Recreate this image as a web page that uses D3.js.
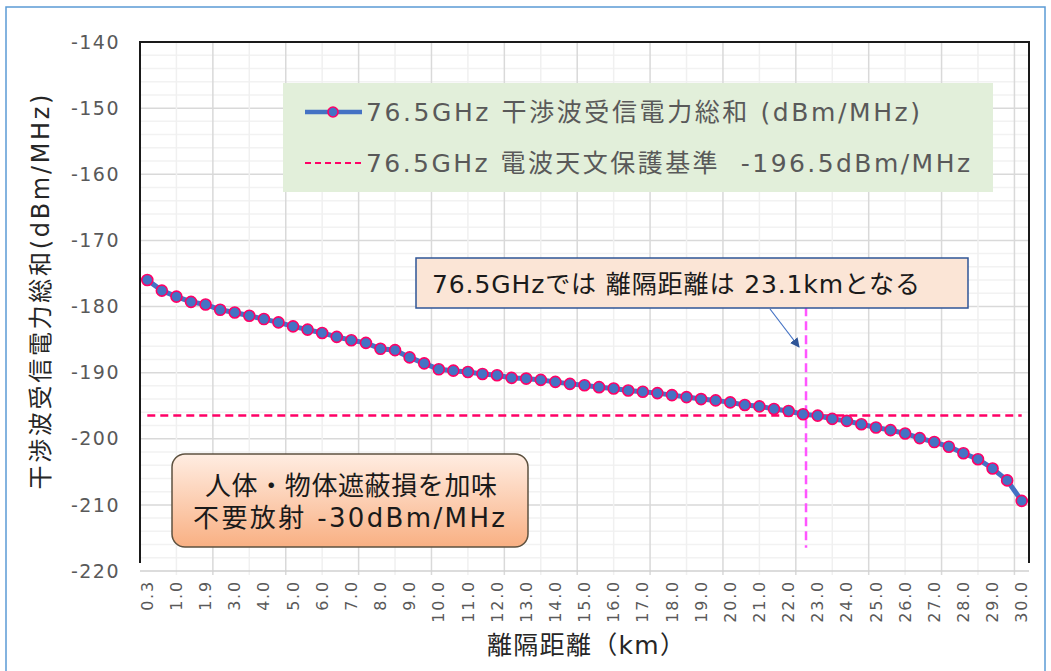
<!DOCTYPE html>
<html lang="ja">
<head>
  <meta charset="utf-8" />
  <script src="https://d3js.org/d3.v7.min.js"></script>
  <style>
    body { margin: 0; background: #fff; }
    svg { font-family: "DejaVu Sans", "Noto Sans CJK JP", sans-serif; }
    .tick-label { font-size: 19px; fill: #595959; letter-spacing: 1.5px; }
    .x-label { font-size: 16px; fill: #595959; letter-spacing: 1.8px; }
    .legend-text { font-size: 25px; fill: #595959; }
  </style>
</head>
<body>
  <div id="visu"></div>
  <script>
    const width = 1051, height = 671;
    const plot = { left: 140, right: 1029, top: 42, bottom: 571 };

    // 離隔距離 (km) — 61 カテゴリ、ラベルは1つおき
    const distances = [
      "0.3", "0.6", "1.0", "1.5", "1.9", "2.5", "3.0", "3.5", "4.0", "4.5",
      "5.0", "5.5", "6.0", "6.5", "7.0", "7.5", "8.0", "8.5", "9.0", "9.5",
      "10.0", "10.5", "11.0", "11.5", "12.0", "12.5", "13.0", "13.5", "14.0", "14.5",
      "15.0", "15.5", "16.0", "16.5", "17.0", "17.5", "18.0", "18.5", "19.0", "19.5",
      "20.0", "20.5", "21.0", "21.5", "22.0", "22.5", "23.0", "23.5", "24.0", "24.5",
      "25.0", "25.5", "26.0", "26.5", "27.0", "27.5", "28.0", "28.5", "29.0", "29.5",
      "30.0"
    ];

    // 干渉波受信電力総和 (dBm/MHz)
    const interference = [
      -176.0, -177.6, -178.5, -179.3, -179.7, -180.5, -180.9, -181.4, -181.9, -182.4,
      -183.0, -183.5, -184.0, -184.6, -185.1, -185.5, -186.4, -186.6, -187.7, -188.6,
      -189.5, -189.7, -189.9, -190.2, -190.4, -190.8, -190.9, -191.1, -191.4, -191.7,
      -191.9, -192.2, -192.4, -192.7, -192.9, -193.1, -193.4, -193.7, -194.0, -194.2,
      -194.5, -194.9, -195.1, -195.5, -195.8, -196.3, -196.5, -197.0, -197.3, -197.8,
      -198.3, -198.7, -199.2, -199.9, -200.5, -201.2, -202.2, -203.1, -204.5, -206.3,
      -209.4
    ];

    const protectionLevel = -196.5;
    const crossIndex = 45.2;          // 23.1km 付近のカテゴリ位置
    const crossRange = [-178, -216.5];
    const yTicks = [-140, -150, -160, -170, -180, -190, -200, -210, -220];

    const svg = d3.select("#visu").append("svg")
      .attr("width", width)
      .attr("height", height);

    // 外枠
    svg.append("rect")
      .attr("x", 6).attr("y", 7)
      .attr("width", 1039).attr("height", 700)
      .attr("fill", "#fff")
      .attr("stroke", "#5B9BD5")
      .attr("stroke-width", 1.5);

    const x = d3.scaleBand()
      .domain(distances)
      .range([plot.left, plot.right])
      .padding(0);
    const xc = d => x(d) + x.bandwidth() / 2;
    const xi = i => plot.left + (i + 0.5) * x.bandwidth();

    const y = d3.scaleLinear()
      .domain([-220, -140])
      .range([plot.bottom, plot.top]);

    // グリッド（横）
    const g = svg.append("g");
    g.selectAll(".hminor")
      .data(d3.range(-218, -140, 2).filter(v => v % 10 !== 0))
      .enter().append("line")
      .attr("x1", plot.left).attr("x2", plot.right)
      .attr("y1", d => y(d)).attr("y2", d => y(d))
      .attr("stroke", "#F2F2F2").attr("stroke-width", 1.5);
    g.selectAll(".hmajor")
      .data(yTicks.slice(1, -1))
      .enter().append("line")
      .attr("x1", plot.left).attr("x2", plot.right)
      .attr("y1", d => y(d)).attr("y2", d => y(d))
      .attr("stroke", "#D9D9D9").attr("stroke-width", 1.5);

    // グリッド（縦）2.5 カテゴリ間隔
    const vGrid = d3.range(1, 25);
    g.selectAll(".vgrid")
      .data(vGrid)
      .enter().append("line")
      .attr("x1", k => plot.left + k * 2.5 * x.bandwidth())
      .attr("x2", k => plot.left + k * 2.5 * x.bandwidth())
      .attr("y1", plot.top).attr("y2", plot.bottom + 4)
      .attr("stroke", k => k % 2 === 0 ? "#D9D9D9" : "#F0F0F0")
      .attr("stroke-width", 1.5);

    // 軸枠
    svg.append("line")
      .attr("x1", plot.left).attr("x2", plot.right)
      .attr("y1", plot.bottom).attr("y2", plot.bottom)
      .attr("stroke", "#D0D0D0").attr("stroke-width", 1.5);
    svg.append("path")
      .attr("d", `M${plot.left},${plot.bottom - 8}V${plot.top}H${plot.right}V${plot.bottom - 8}`)
      .attr("fill", "none")
      .attr("stroke", "#1a1a1a")
      .attr("stroke-width", 2);

    // Y 軸ラベル
    svg.selectAll(".ytick")
      .data(yTicks)
      .enter().append("text")
      .attr("class", "tick-label")
      .attr("x", 120)
      .attr("y", d => y(d))
      .attr("dy", "0.35em")
      .attr("text-anchor", "end")
      .text(d => d);

    // X 軸ラベル（1つおき）
    svg.selectAll(".xtick")
      .data(distances.filter((d, i) => i % 2 === 0))
      .enter().append("text")
      .attr("class", "x-label")
      .attr("transform", d => `translate(${xc(d)},${plot.bottom + 9}) rotate(-90)`)
      .attr("dy", "0.35em")
      .attr("text-anchor", "end")
      .text(d => d);

    // 軸タイトル
    svg.append("text")
      .attr("transform", `translate(41,292) rotate(-90)`)
      .attr("text-anchor", "middle")
      .attr("dy", "0.35em")
      .attr("textLength", 395)
      .attr("lengthAdjust", "spacing")
      .style("font-size", "24px")
      .style("fill", "#262626")
      .text("干渉波受信電力総和(dBm/MHz)");
    svg.append("text")
      .attr("x", 586).attr("y", 645)
      .attr("text-anchor", "middle")
      .attr("dy", "0.35em")
      .attr("textLength", 198)
      .attr("lengthAdjust", "spacing")
      .style("font-size", "25px")
      .style("fill", "#262626")
      .text("離隔距離（km）");

    // 保護基準線
    svg.append("line")
      .attr("x1", xc(distances[0])).attr("x2", xc(distances[distances.length - 1]))
      .attr("y1", y(protectionLevel)).attr("y2", y(protectionLevel))
      .attr("stroke", "#FF0066")
      .attr("stroke-width", 2.5)
      .attr("stroke-dasharray", "8,5");

    // 23.1km 縦線
    svg.append("line")
      .attr("x1", xi(crossIndex)).attr("x2", xi(crossIndex))
      .attr("y1", y(crossRange[0])).attr("y2", y(crossRange[1]))
      .attr("stroke", "#FF55FF")
      .attr("stroke-width", 2.5)
      .attr("stroke-dasharray", "9,5");

    // 系列
    const series = distances.map((d, i) => ({ d, v: interference[i] }));
    const line = d3.line().x(p => xc(p.d)).y(p => y(p.v));
    svg.append("path")
      .datum(series)
      .attr("d", line)
      .attr("fill", "none")
      .attr("stroke", "#4472C4")
      .attr("stroke-width", 5);
    svg.selectAll(".pt")
      .data(series)
      .enter().append("circle")
      .attr("cx", p => xc(p.d))
      .attr("cy", p => y(p.v))
      .attr("r", 5.5)
      .attr("fill", "#4472C4")
      .attr("stroke", "#FF0066")
      .attr("stroke-width", 1.6);

    // 凡例
    const lg = svg.append("g");
    lg.append("rect")
      .attr("x", 283).attr("y", 83)
      .attr("width", 710).attr("height", 109)
      .attr("fill", "#E2EFDA");
    lg.append("line")
      .attr("x1", 305).attr("x2", 362).attr("y1", 112).attr("y2", 112)
      .attr("stroke", "#4472C4").attr("stroke-width", 4.5);
    lg.append("circle")
      .attr("cx", 333).attr("cy", 112).attr("r", 5)
      .attr("fill", "#4472C4").attr("stroke", "#FF0066").attr("stroke-width", 1.6);
    lg.append("text")
      .attr("class", "legend-text")
      .attr("x", 366).attr("y", 112).attr("dy", "0.35em")
      .attr("textLength", 554)
      .attr("lengthAdjust", "spacing")
      .text("76.5GHz 干渉波受信電力総和 (dBm/MHz)");
    lg.append("line")
      .attr("x1", 305).attr("x2", 362).attr("y1", 163).attr("y2", 163)
      .attr("stroke", "#FF0066").attr("stroke-width", 2)
      .attr("stroke-dasharray", "6,4");
    lg.append("text")
      .attr("class", "legend-text")
      .attr("x", 366).attr("y", 163).attr("dy", "0.35em")
      .attr("xml:space", "preserve")
      .attr("textLength", 604)
      .attr("lengthAdjust", "spacing")
      .text("76.5GHz 電波天文保護基準  -196.5dBm/MHz");

    // 注記：離隔距離
    svg.append("rect")
      .attr("x", 416).attr("y", 258)
      .attr("width", 552).attr("height", 50)
      .attr("fill", "#FBE5D6")
      .attr("stroke", "#2F5597")
      .attr("stroke-width", 1.5);
    svg.append("text")
      .attr("x", 432).attr("y", 284).attr("dy", "0.35em")
      .attr("textLength", 488)
      .attr("lengthAdjust", "spacing")
      .style("font-size", "25px")
      .style("fill", "#1a1a1a")
      .text("76.5GHzでは 離隔距離は 23.1kmとなる");

    svg.append("defs").append("marker")
      .attr("id", "arr")
      .attr("viewBox", "0 0 10 10")
      .attr("refX", 9).attr("refY", 5)
      .attr("markerWidth", 8).attr("markerHeight", 8)
      .attr("orient", "auto")
      .append("path")
      .attr("d", "M0,0L10,5L0,10z")
      .attr("fill", "#2F5597");
    svg.append("line")
      .attr("x1", 770).attr("y1", 309)
      .attr("x2", 799).attr("y2", 347)
      .attr("stroke", "#4472C4")
      .attr("stroke-width", 1.2)
      .attr("marker-end", "url(#arr)");

    // 注記：条件
    const grad = svg.select("defs").append("linearGradient")
      .attr("id", "orange")
      .attr("x1", 0).attr("y1", 0).attr("x2", 0).attr("y2", 1);
    grad.append("stop").attr("offset", "0%").attr("stop-color", "#FFEDE2");
    grad.append("stop").attr("offset", "100%").attr("stop-color", "#F9B083");
    svg.append("rect")
      .attr("x", 172).attr("y", 454)
      .attr("width", 356).attr("height", 93)
      .attr("rx", 13).attr("ry", 13)
      .attr("fill", "url(#orange)")
      .attr("stroke", "#5E5240")
      .attr("stroke-width", 1.5);
    svg.append("text")
      .attr("x", 351).attr("y", 486).attr("dy", "0.35em")
      .attr("text-anchor", "middle")
      .attr("textLength", 292)
      .attr("lengthAdjust", "spacing")
      .style("font-size", "26px")
      .style("fill", "#1a1a1a")
      .text("人体・物体遮蔽損を加味");
    svg.append("text")
      .attr("x", 349).attr("y", 518).attr("dy", "0.35em")
      .attr("text-anchor", "middle")
      .attr("textLength", 312)
      .attr("lengthAdjust", "spacing")
      .style("font-size", "26px")
      .style("fill", "#1a1a1a")
      .text("不要放射 -30dBm/MHz");
  </script>
</body>
</html>
